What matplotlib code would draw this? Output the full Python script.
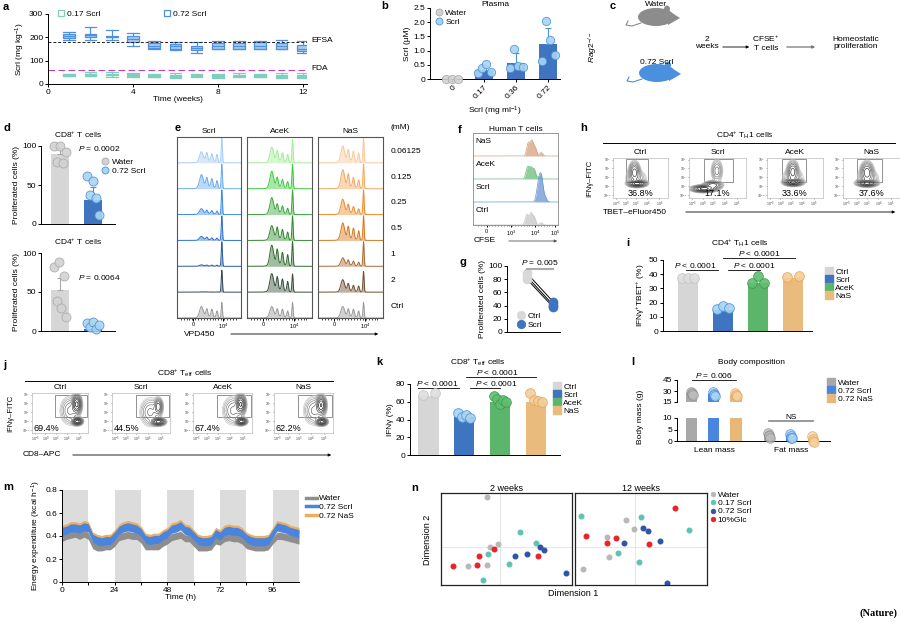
import numpy as np
import matplotlib
matplotlib.use('Agg')
import matplotlib.pyplot as plt
from matplotlib.patches import Rectangle, Ellipse, Polygon
from matplotlib.lines import Line2D

W, H = 900, 622
FS = 6

# ---------------- data ----------------
# a: weekly Scrl intake, box statistics (mg/kg)
A_WEEKS = list(range(1, 13))
A_HI_MED = [205, 208, 203, 192, 165, 162, 155, 163, 163, 165, 165, 152]
A_HI_Q1 = [196, 200, 200, 180, 155, 152, 145, 150, 152, 152, 152, 142]
A_HI_Q3 = [215, 216, 205, 205, 175, 172, 165, 175, 175, 178, 175, 168]
A_HI_LO = [190, 190, 190, 165, 148, 145, 135, 148, 148, 148, 148, 135]
A_HI_HI = [225, 245, 232, 220, 185, 180, 178, 185, 185, 185, 190, 185]
A_LO_MED = [38, 42, 40, 38, 34, 35, 36, 34, 36, 34, 35, 34]
A_LO_Q1 = [35, 39, 37, 33, 30, 31, 33, 30, 33, 31, 31, 30]
A_LO_Q3 = [42, 44, 45, 43, 38, 39, 39, 38, 40, 37, 39, 38]
A_LO_LO = [33, 35, 32, 30, 28, 27, 30, 27, 30, 28, 27, 26]
A_LO_HI = [44, 50, 50, 48, 44, 46, 43, 44, 46, 42, 46, 47]
A_EFSA = 180
A_FDA = 60

# b: plasma Scrl
B_DOSES = ['0', '0.17', '0.36', '0.72']
B_MEAN = [0, 0.30, 0.55, 1.22]
B_SD = [0, 0.15, 0.35, 0.58]
B_PTS = [[0, 0, 0], [0.20, 0.40, 0.52, 0.25], [0.38, 1.05, 0.45, 0.42],
         [0.62, 2.05, 1.38, 0.85]]

# d: proliferation in vivo
D_GROUPS = ['Water', '0.72 Scrl']
D_CD8_MEAN = [90, 31]
D_CD8_SD = [8, 16]
D_CD8_PTS = [[100, 80, 100, 78, 92], [62, 37, 55, 33, 12]]
D_CD4_MEAN = [53, 3]
D_CD4_SD = [15, 3]
D_CD4_PTS = [[82, 38, 89, 30, 70, 18], [10, 5, 12, 3, 8]]

# e: VPD450 division profiles, peak heights [gen0, gen1, gen2, gen3, gen4+, spread]
E_DOSES = ['0.06125', '0.125', '0.25', '0.5', '1', '2', 'Ctrl']
E_SCRL = [[0.95, 0.30, 0.28, 0.30, 0.38, 0.10],
          [0.95, 0.28, 0.30, 0.32, 0.48, 0.12],
          [0.95, 0.12, 0.12, 0.12, 0.20, 0.05],
          [0.95, 0.08, 0.08, 0.10, 0.14, 0.03],
          [0.95, 0.04, 0.04, 0.04, 0.05, 0.01],
          [0.85, 0.01, 0.01, 0.01, 0.01, 0.00],
          [0.60, 0.25, 0.28, 0.28, 0.40, 0.08]]
E_ACEK = [[0.90, 0.30, 0.32, 0.38, 0.55, 0.10],
          [0.95, 0.25, 0.28, 0.35, 0.62, 0.10],
          [0.95, 0.22, 0.26, 0.32, 0.60, 0.10],
          [0.95, 0.30, 0.35, 0.42, 0.52, 0.10],
          [0.95, 0.42, 0.45, 0.55, 0.75, 0.12],
          [0.70, 0.38, 0.42, 0.48, 0.65, 0.12],
          [0.60, 0.25, 0.28, 0.28, 0.40, 0.08]]
E_NAS = [[0.95, 0.35, 0.38, 0.42, 0.60, 0.10],
         [0.95, 0.32, 0.36, 0.48, 0.68, 0.10],
         [0.95, 0.20, 0.25, 0.32, 0.55, 0.08],
         [0.95, 0.35, 0.40, 0.45, 0.62, 0.10],
         [0.95, 0.15, 0.16, 0.20, 0.30, 0.05],
         [0.80, 0.22, 0.22, 0.28, 0.45, 0.06],
         [0.60, 0.25, 0.28, 0.28, 0.40, 0.08]]

# f: human T cells, CFSE peaks (log10 position, height)
F_SAMPLES = ['NaS', 'AceK', 'Scrl', 'Ctrl']
F_POS = [[3.71, 3.86, 4.00, 4.25], [3.68, 3.82, 3.96, 4.18],
         [4.10, 4.19, 4.28, 4.42], [3.65, 3.82, 3.96, 4.25]]
F_HT = [[0.55, 0.62, 0.35, 0.15], [0.50, 0.45, 0.40, 0.10],
        [0.45, 0.75, 0.80, 0.20], [0.45, 0.50, 0.32, 0.10]]

# g: human T cells proliferation
G_CTRL = [89, 84, 80]
G_SCRL = [46, 41, 38]

# h: CD4 TH1 flow (population: x, y, sx, sy, weight), gate (x0, x1, y0, y1)
H_SAMPLES = ['Ctrl', 'Scrl', 'AceK', 'NaS']
H_PCT = ['36.8%', '17.1%', '33.6%', '37.6%']
H_POPS = [[(2.2, 1.8, 0.40, 0.20, 1.0), (1.95, 3.3, 0.25, 0.60, 0.45), (2.1, 2.5, 0.5, 0.5, 0.15)],
          [(1.3, 1.15, 0.50, 0.20, 1.0), (2.1, 1.6, 0.40, 0.25, 0.5), (2.45, 3.4, 0.25, 0.70, 0.22)],
          [(2.35, 1.95, 0.40, 0.20, 1.0), (2.3, 3.4, 0.25, 0.60, 0.45), (2.3, 2.6, 0.5, 0.5, 0.15)],
          [(2.1, 1.85, 0.42, 0.20, 1.0), (2.1, 3.3, 0.28, 0.60, 0.50), (2.2, 2.5, 0.5, 0.5, 0.15)]]
H_GATES = [(1.15, 3.2, 1.95, 4.9), (1.35, 3.9, 1.95, 4.9),
           (1.35, 3.45, 1.95, 4.9), (1.25, 3.4, 1.95, 4.9)]

# i: IFNg+TBET+ CD4 TH1
I_GROUPS = ['Ctrl', 'Scrl', 'AceK', 'NaS']
I_MEAN = [37.5, 14.8, 33.5, 37.2]
I_PTS = [[37.5, 37.5, 37.5], [15.2, 17.5, 16.3], [33.5, 38.7, 34.0], [38.2, 38.7]]

# j: CD8 Teff flow
J_PCT = ['69.4%', '44.5%', '67.4%', '62.2%']
J_POPS = [[(4.0, 3.6, 0.20, 0.55, 0.9), (4.05, 1.45, 0.22, 0.22, 1.0), (3.4, 2.8, 0.45, 0.9, 0.2)],
          [(4.0, 3.3, 0.18, 0.50, 0.5), (4.0, 1.40, 0.28, 0.22, 1.0), (3.3, 2.6, 0.45, 0.9, 0.2)],
          [(4.05, 3.6, 0.20, 0.55, 0.85), (4.1, 1.45, 0.22, 0.22, 1.0), (3.4, 2.8, 0.45, 0.9, 0.2)],
          [(4.0, 3.5, 0.20, 0.55, 0.8), (4.05, 1.40, 0.22, 0.22, 1.0), (3.4, 2.8, 0.45, 0.9, 0.2)]]
J_GATE = (2.05, 4.9, 2.0, 4.8)

# k: IFNg CD8 Teff
K_MEAN = [66, 43, 60, 60]
K_PTS = [[68, 70], [47, 43, 45, 42], [67, 63, 58, 62, 60], [70, 62, 61, 60]]

# l: body composition (g)
L_GROUPS = ['Water', '0.72 Scrl', '0.72 NaS']
L_LEAN = [27, 26, 25]
L_LEAN_PTS = [[28, 27, 26, 25], [28, 26, 25, 23], [27, 25, 24, 23]]
L_FAT = [2.5, 2.3, 1.0]
L_FAT_PTS = [[3.5, 2.5, 2.0, 1.5], [3.2, 2.2, 1.5, 1.2], [2.0, 1.0, 0.2, -0.3]]

# m: energy expenditure (kcal/h), every 2 h
M_HOURS = np.arange(0, 109, 2)
M_WATER = [0.38, 0.40, 0.41, 0.42, 0.40, 0.42, 0.40, 0.32, 0.30, 0.30, 0.31, 0.31,
           0.34, 0.39, 0.40, 0.41, 0.40, 0.40, 0.37, 0.31, 0.31, 0.31, 0.31, 0.34,
           0.36, 0.39, 0.40, 0.41, 0.38, 0.38, 0.34, 0.30, 0.30, 0.30, 0.31, 0.36,
           0.35, 0.38, 0.39, 0.38, 0.38, 0.36, 0.32, 0.31, 0.30, 0.30, 0.30, 0.31,
           0.36, 0.40, 0.40, 0.39, 0.38, 0.37, 0.36]
M_SCRL = [0.44, 0.45, 0.47, 0.47, 0.46, 0.48, 0.47, 0.38, 0.36, 0.35, 0.36, 0.36,
          0.40, 0.45, 0.47, 0.48, 0.47, 0.46, 0.43, 0.37, 0.36, 0.37, 0.37, 0.40,
          0.42, 0.46, 0.47, 0.49, 0.45, 0.44, 0.40, 0.36, 0.35, 0.35, 0.36, 0.42,
          0.40, 0.44, 0.45, 0.44, 0.44, 0.42, 0.38, 0.36, 0.35, 0.35, 0.35, 0.36,
          0.42, 0.48, 0.47, 0.46, 0.44, 0.43, 0.42]
M_NAS = [0.47, 0.48, 0.50, 0.50, 0.49, 0.51, 0.50, 0.41, 0.39, 0.38, 0.39, 0.39,
         0.43, 0.48, 0.50, 0.51, 0.50, 0.49, 0.46, 0.40, 0.39, 0.40, 0.40, 0.43,
         0.45, 0.49, 0.50, 0.52, 0.48, 0.47, 0.43, 0.39, 0.38, 0.38, 0.39, 0.45,
         0.43, 0.47, 0.48, 0.47, 0.47, 0.45, 0.41, 0.39, 0.38, 0.38, 0.38, 0.39,
         0.45, 0.51, 0.50, 0.49, 0.47, 0.46, 0.45]

# n: MDS of microbiota (Dimension 1, Dimension 2)
N_GROUPS = ['Water', '0.17 Scrl', '0.72 Scrl', '10%Glc']
N_W2 = [[(-0.40, 1.47), (-0.32, 0.00), (-0.07, 0.08), (-0.97, -0.57), (-0.40, -0.54)],
        [(0.59, 0.43), (1.08, 0.12), (-0.37, -0.21), (0.28, -0.51), (-0.53, -1.00)],
        [(1.21, -0.01), (1.32, -0.11), (0.82, -0.21), (0.46, -0.29), (1.98, -0.80)],
        [(-1.43, -0.58), (-0.69, -0.55), (-0.63, -0.29), (-0.19, -0.08), (1.14, -0.29)]]
N_W12 = [[(-0.28, 0.80), (-0.03, 0.53), (-0.84, 0.29), (-0.77, -0.32), (-1.56, -0.66)],
         [(-1.62, 0.90), (0.19, 0.88), (1.63, 0.48), (-0.51, -0.18), (0.13, -0.46)],
         [(0.25, 0.56), (0.41, 0.46), (-0.33, 0.12), (0.75, 0.17), (0.96, -1.08)],
         [(1.20, 1.16), (-1.48, 0.30), (-0.56, 0.25), (-0.85, 0.12), (0.42, 0.07)]]

# ---------------- style ----------------
plt.rcParams.update({
    'font.family': ['Liberation Sans', 'DejaVu Sans'],
    'font.size': FS,
    'axes.titlesize': FS,
    'axes.labelsize': FS,
    'xtick.labelsize': FS,
    'ytick.labelsize': FS,
    'legend.fontsize': FS,
    'axes.linewidth': 0.7,
    'xtick.major.width': 0.7,
    'ytick.major.width': 0.7,
    'xtick.major.size': 2.2,
    'ytick.major.size': 2.2,
    'xtick.major.pad': 1.2,
    'ytick.major.pad': 1.2,
    'axes.titlepad': 2,
    'axes.labelpad': 1.5,
    'mathtext.fontset': 'custom',
    'mathtext.rm': 'Liberation Sans',
    'mathtext.it': 'Liberation Sans:italic',
    'mathtext.bf': 'Liberation Sans:bold',
})

GREY_BAR = '#d6d6d6'
GREY_DOT = ('#d2d2d2', '#a9a9a9')
BLUE_BAR = '#3f74c0'
BLUE_DOT = ('#a9d4f0', '#4a90d9')
GREEN_BAR = '#5bb56a'
GREEN_DOT = ('#5fbf70', '#3d9a4f')
ORANGE_BAR = '#e9bb7c'
ORANGE_DOT = ('#f3cd98', '#e3a65c')

fig = plt.figure(figsize=(W / 100, H / 100), dpi=100)


def px_axes(x0, y0, x1, y1):
    return fig.add_axes([x0 / W, 1 - y1 / H, (x1 - x0) / W, (y1 - y0) / H])


def open_spines(ax):
    ax.spines['top'].set_visible(False)
    ax.spines['right'].set_visible(False)


def spread(n, w):
    return np.linspace(-w, w, n) if n > 1 else np.zeros(1)


def circ(face, edge, ms=5):
    return Line2D([], [], marker='o', ls='none', ms=ms, mfc=face, mec=edge, mew=0.6)


def square(c, ms=5):
    return Line2D([], [], marker='s', ls='none', ms=ms, mfc=c, mec=c)


def small_legend(ax, handles, labels, **kw):
    opts = dict(frameon=False, handlelength=0.9, handletextpad=0.3,
                labelspacing=0.12, borderaxespad=0, borderpad=0)
    opts.update(kw)
    return ax.legend(handles, labels, **opts)


def bar_dots(ax, means, pts, bars, dots, sd=None, width=0.55, ms=6, w=0.15):
    x = np.arange(len(means))
    ax.bar(x, means, width=width, color=bars, zorder=1)
    for i, p in enumerate(pts):
        if sd is not None:
            ax.errorbar(i, means[i], yerr=[[0], [sd[i]]], fmt='none',
                        ecolor=dots[i][1], elinewidth=0.8, capsize=2,
                        capthick=0.8, zorder=2)
        ax.plot(i + spread(len(p), w), p, 'o', ms=ms, mfc=dots[i][0],
                mec=dots[i][1], mew=0.6, alpha=0.9, zorder=3, clip_on=False)


def bracket(ax, x0, x1, y, label, tx=None, color='k', lw=0.6):
    ax.plot([x0, x1], [y, y], color=color, lw=lw, clip_on=False)
    tx = (x0 + x1) / 2 if tx is None else tx
    ax.text(tx, y, label, ha='center', va='bottom', clip_on=False)


GX, GY = np.meshgrid(np.linspace(0, 5, 140), np.linspace(0, 5, 140))
FLOW_Y = [0.4, 1.5, 2.6, 3.7, 4.8]
FLOW_X = [0.3, 1.2, 2.1, 3.1, 4.2]
FLOW_LAB = ['10$^{-3}$', '10$^{0}$', '10$^{3}$', '10$^{4}$', '10$^{5}$']


def flow_panel(ax, pops, gate, pct, pct_xy, ha):
    z = np.zeros_like(GX)
    for cx, cy, sx, sy, wt in pops:
        z += wt * np.exp(-0.5 * (((GX - cx) / sx) ** 2 + ((GY - cy) / sy) ** 2))
    lv = z.max() * np.geomspace(0.025, 0.8, 10)
    cols = [plt.cm.Greys(v) for v in np.linspace(0.35, 1.0, 10)]
    ax.contour(GX, GY, z, levels=lv, colors=cols, linewidths=0.45)
    ax.add_patch(Rectangle((gate[0], gate[2]), gate[1] - gate[0], gate[3] - gate[2],
                           fill=False, ec='#808080', lw=0.6))
    ax.text(pct_xy[0], pct_xy[1], pct, ha=ha, va='bottom', fontsize=6.5)
    ax.set_xlim(0, 5)
    ax.set_ylim(0, 5)
    ax.set_xticks(FLOW_X)
    ax.set_xticklabels(FLOW_LAB, fontsize=2.6)
    ax.set_yticks(FLOW_Y)
    ax.set_yticklabels(FLOW_LAB, fontsize=2.4)
    ax.tick_params(length=1, width=0.4, pad=0.4, colors='#444444')
    for s in ax.spines.values():
        s.set_color('#bbbbbb')
        s.set_linewidth(0.5)


# ---------------- a ----------------
ax = px_axes(48, 14, 307, 84)
hi_stats = [dict(med=m, q1=a, q3=b, whislo=lo, whishi=hh) for m, a, b, lo, hh in
            zip(A_HI_MED, A_HI_Q1, A_HI_Q3, A_HI_LO, A_HI_HI)]
lo_stats = [dict(med=m, q1=a, q3=b, whislo=lo, whishi=hh) for m, a, b, lo, hh in
            zip(A_LO_MED, A_LO_Q1, A_LO_Q3, A_LO_LO, A_LO_HI)]
for stats, face, edge in [(lo_stats, '#c4e9df', '#7fcfbf'), (hi_stats, '#a9cdf2', '#4f8fe0')]:
    ax.bxp(stats, positions=A_WEEKS, widths=0.55, capwidths=0.55, patch_artist=True,
           showfliers=False, manage_ticks=False,
           boxprops=dict(facecolor=face, edgecolor=edge, lw=0.9),
           whiskerprops=dict(color=edge, lw=0.9), capprops=dict(color=edge, lw=0.9),
           medianprops=dict(color=edge, lw=0.9))
ax.axhline(A_EFSA, color='#222222', lw=0.7, ls=(0, (3, 2)))
ax.axhline(A_FDA, color='#c23fbf', lw=0.8, ls=(0, (6, 3)))
ax.set_xlim(0, 12.2)
ax.set_ylim(0, 300)
ax.set_xticks([0, 4, 8, 12])
ax.set_yticks([0, 100, 200, 300])
ax.set_xlabel('Time (weeks)', labelpad=0.5)
ax.set_ylabel('Scrl (mg kg$^{-1}$)')
open_spines(ax)
small_legend(ax, [Line2D([], [], marker='s', ls='none', ms=5, mfc='none', mec='#7fcfbf', mew=0.9),
                  Line2D([], [], marker='s', ls='none', ms=5, mfc='none', mec='#4f8fe0', mew=0.9)],
             ['0.17 Scrl', '0.72 Scrl'], ncol=2, loc='center left',
             bbox_to_anchor=(0.035, 1.0), columnspacing=7.5)

# ---------------- b ----------------
ax = px_axes(430, 8, 560, 79)
bar_dots(ax, B_MEAN, B_PTS, [BLUE_BAR] * 4, [GREY_DOT] + [BLUE_DOT] * 3,
         sd=B_SD, width=0.55, ms=6, w=0.2)
ax.set_xlim(-0.69, 3.37)
ax.set_ylim(0, 2.5)
ax.set_yticks([0, 0.5, 1.0, 1.5, 2.0, 2.5])
ax.set_yticklabels(['0', '0.5', '1.0', '1.5', '2.0', '2.5'])
ax.set_xticks(range(len(B_DOSES)))
ax.set_xticklabels(B_DOSES, rotation=45, ha='right', va='top', rotation_mode='anchor')
ax.set_xlabel('Scrl (mg ml$^{-1}$)', labelpad=3)
ax.set_ylabel('Scrl (μM)')
ax.set_title('Plasma', pad=0.5)
open_spines(ax)
small_legend(ax, [circ(*GREY_DOT), circ(*BLUE_DOT)], ['Water', 'Scrl'],
             loc='upper left', bbox_to_anchor=(0.04, 0.98))

# ---------------- d ----------------
for (y0, y1, means, sds, pts, title, ptxt, py) in [
        (146, 224, D_CD8_MEAN, D_CD8_SD, D_CD8_PTS, 'CD8$^{+}$ T cells', '$P$ = 0.0002', 97),
        (253, 331, D_CD4_MEAN, D_CD4_SD, D_CD4_PTS, 'CD4$^{+}$ T cells', '$P$ = 0.0064', 69)]:
    ax = px_axes(41, y0, 115, y1)
    bar_dots(ax, means, pts, [GREY_BAR, BLUE_BAR], [GREY_DOT, BLUE_DOT], sd=sds,
             width=0.55, ms=6.5, w=0.18)
    ax.set_xlim(-0.58, 1.67)
    ax.set_ylim(0, 100)
    ax.set_yticks([0, 50, 100])
    ax.set_xticks([])
    ax.set_ylabel('Proliferated cells (%)')
    ax.set_title(title, pad=6)
    ax.text(0.55, py, ptxt, ha='left', va='center')
    open_spines(ax)
    if y0 == 146:
        small_legend(ax, [circ(*GREY_DOT), circ(*BLUE_DOT)], D_GROUPS,
                     loc='upper left', bbox_to_anchor=(0.82, 0.84))

# ---------------- e ----------------
E_X = np.linspace(0, 10, 400)
E_MU = [7.0, 6.25, 5.45, 4.65, 3.8, 4.8]
E_SIG = [0.09, 0.12, 0.13, 0.14, 0.28, 0.9]


def division_profile(h):
    y = np.zeros_like(E_X)
    for hi, mu, s in zip(h, E_MU, E_SIG):
        y += hi * np.exp(-0.5 * ((E_X - mu) / s) ** 2)
    return y


E_PANELS = [
    ('Scrl', E_SCRL, ['#a6cdf5', '#6aaaf0', '#3c8ae8', '#2a6fd0', '#2a5aa0', '#34485e', '#9a9a9a'], (177, 241)),
    ('AceK', E_ACEK, ['#a3ec98', '#3dcc3a', '#3aa83a', '#2f8a2f', '#2f6e2f', '#35503a', '#9a9a9a'], (247, 312)),
    ('NaS', E_NAS, ['#f8c89a', '#f7a860', '#ef8c2c', '#d6781e', '#a86a30', '#6e4e30', '#9a9a9a'], (318, 383)),
]
n_e = len(E_DOSES)
for ci, (name, heights, colors, (x0, x1)) in enumerate(E_PANELS):
    ax = px_axes(x0, 137, x1, 318)
    for r in range(n_e):
        base = n_e - 1 - r
        prof = division_profile(heights[r])
        ax.fill_between(E_X, base, base + prof, color=colors[r], alpha=0.45, lw=0)
        ax.plot(E_X, base + prof, color=colors[r], lw=0.7)
        if ci == 2:
            ax.text(11.1, base + 0.45, E_DOSES[r], ha='left', va='center', clip_on=False)
    ax.set_xlim(0, 10)
    ax.set_ylim(0, n_e)
    ax.set_yticks([])
    ax.set_xticks([2.5, 7.2])
    ax.set_xticklabels(['0', '10$^{4}$'], fontsize=4)
    ax.set_xticks(np.arange(0.6, 9.6, 0.45), minor=True)
    ax.tick_params(which='minor', length=1.2, width=0.5)
    ax.tick_params(which='major', length=1.8)
    ax.set_title(name, pad=3)
    for s in ax.spines.values():
        s.set_color('#555555')
        s.set_linewidth(0.8)
    if ci == 2:
        ax.text(11.1, n_e + 0.25, '(mM)', ha='left', va='bottom', clip_on=False)

# ---------------- f ----------------
ax = px_axes(473, 133, 558, 225)
F_X = np.linspace(1.39, 4.96, 300)
f_cols = ['#d6a07c', '#6dbb7d', '#6b97d4', '#c6c6c6']
n_f = len(F_SAMPLES)
for r in range(n_f):
    base = n_f - 1 - r
    prof = np.zeros_like(F_X)
    for mu, h in zip(F_POS[r], F_HT[r]):
        prof += h * np.exp(-0.5 * ((F_X - mu) / 0.065) ** 2)
    ax.fill_between(F_X, base, base + prof, color=f_cols[r], alpha=0.75, lw=0)
    ax.plot(F_X, base + prof, color=f_cols[r], lw=0.5)
    ax.text(1.5, base + 0.62, F_SAMPLES[r], ha='left', va='center')
ax.set_xlim(1.39, 4.96)
ax.set_ylim(0, n_f)
ax.set_yticks([])
ax.set_xticks([1.96, 3, 4, 4.85])
ax.set_xticklabels(['0', '10$^{3}$', '10$^{4}$', '10$^{5}$'], fontsize=4)
ax.set_xticks(np.arange(1.6, 4.9, 0.12), minor=True)
ax.tick_params(which='minor', length=1, width=0.4)
ax.tick_params(which='major', length=1.6)
ax.set_title('Human T cells', pad=1)
for s in ax.spines.values():
    s.set_color('#888888')
    s.set_linewidth(0.6)

# ---------------- g ----------------
ax = px_axes(507, 266, 560, 332)
for c, s in zip(G_CTRL, G_SCRL):
    ax.plot([0, 1], [c, s], color='k', lw=0.7, zorder=1)
ax.plot(np.zeros(len(G_CTRL)), G_CTRL, 'o', ms=6, mfc='#d8d8d8', mec='#d8d8d8', zorder=2)
ax.plot(np.ones(len(G_SCRL)), G_SCRL, 'o', ms=6, mfc=BLUE_BAR, mec=BLUE_BAR, zorder=2)
ax.set_xlim(-0.77, 1.27)
ax.set_ylim(0, 100)
ax.set_yticks(range(0, 101, 20))
ax.set_xticks([])
ax.set_ylabel('Proliferated cells (%)')
open_spines(ax)
ax.plot([0, 1], [95, 95], color='#aaaaaa', lw=1.5, clip_on=False)
ax.text(0.5, 99, '$P$ = 0.005', ha='center', va='bottom', clip_on=False)
small_legend(ax, [circ('#d8d8d8', '#d8d8d8', 6), circ(BLUE_BAR, BLUE_BAR, 6)], ['Ctrl', 'Scrl'],
             loc='lower left', bbox_to_anchor=(0.2, 0.05))

# ---------------- h ----------------
H_BOXES = [(613, 668), (689, 746), (767, 823), (843, 900)]
for k, (x0, x1) in enumerate(H_BOXES):
    ax = px_axes(x0, 158, x1, 198)
    flow_panel(ax, H_POPS[k], H_GATES[k], H_PCT[k], (2.5, 0.05), 'center')
    ax.set_title(H_SAMPLES[k], pad=3)

# ---------------- i ----------------
ax = px_axes(663, 260, 812, 331)
cols4 = [GREY_BAR, BLUE_BAR, GREEN_BAR, ORANGE_BAR]
dots4 = [('#dedede', '#c4c4c4'), BLUE_DOT, GREEN_DOT, ORANGE_DOT]
bar_dots(ax, I_MEAN, I_PTS, cols4, dots4, width=0.57, ms=7, w=0.17)
ax.set_xlim(-0.71, 3.54)
ax.set_ylim(0, 50)
ax.set_yticks(range(0, 51, 10))
ax.set_xticks([])
ax.set_ylabel('IFNγ$^{+}$TBET$^{+}$ (%)')
open_spines(ax)
bracket(ax, -0.05, 0.86, 43, '$P$ < 0.0001', tx=0.2)
bracket(ax, 1.14, 2.06, 43, '$P$ < 0.0001', tx=1.9)
bracket(ax, 1.0, 3.06, 51.3, '$P$ < 0.0001', tx=2.03)
small_legend(ax, [square(c, 5.5) for c in cols4], I_GROUPS, loc='upper left',
             bbox_to_anchor=(1.09, 0.88), labelspacing=0.02)

# ---------------- j ----------------
J_BOXES = [(32, 88), (112, 170), (193, 252), (274, 333)]
for k, (x0, x1) in enumerate(J_BOXES):
    ax = px_axes(x0, 393, x1, 433)
    flow_panel(ax, J_POPS[k], J_GATE, J_PCT[k], (0.15, 0.02), 'left')
    ax.set_title(H_SAMPLES[k], pad=3)

# ---------------- k ----------------
ax = px_axes(410, 384, 560, 455)
bar_dots(ax, K_MEAN, K_PTS, cols4, dots4, width=0.57, ms=7, w=0.17)
ax.set_xlim(-0.52, 3.68)
ax.set_ylim(0, 80)
ax.set_yticks(range(0, 81, 20))
ax.set_xticks([])
ax.set_ylabel('IFNγ (%)')
open_spines(ax)
bracket(ax, -0.31, 0.84, 75.8, '$P$ < 0.0001', tx=0.25)
bracket(ax, 1.15, 2.0, 75.8, '$P$ < 0.0001', tx=1.88)
bracket(ax, 1.04, 3.0, 87.5, '$P$ < 0.0001', tx=1.93)
small_legend(ax, [square(c, 5.5) for c in cols4], I_GROUPS, loc='upper left',
             bbox_to_anchor=(0.955, 1.01), labelspacing=0.02)

# ---------------- l ----------------
l_bars = ['#a8a8a8', '#4a86e0', '#e8b878']
l_dots = [('#bdbdbd', '#8c8c8c'), ('#a9d4f0', '#3f7fdc'), ('#f6cf9c', '#e0a45c')]
lean_x = np.arange(3)
fat_x = lean_x + 3.5
up = px_axes(677, 380, 830, 402)
lw_ax = px_axes(677, 418, 830, 441)
for a_ in (up, lw_ax):
    a_.bar(lean_x, L_LEAN, width=0.5, color=l_bars, zorder=1)
    a_.bar(fat_x, L_FAT, width=0.5, color=l_bars, zorder=1)
    a_.set_xlim(-0.68, 6.27)
    open_spines(a_)
for i in range(3):
    up.plot(lean_x[i] + spread(len(L_LEAN_PTS[i]), 0.05), L_LEAN_PTS[i], 'o', ms=7,
            mfc=l_dots[i][0], mec=l_dots[i][1], mew=0.6, alpha=0.7, zorder=3)
    lw_ax.plot(fat_x[i] + spread(len(L_FAT_PTS[i]), 0.05), L_FAT_PTS[i], 'o', ms=7,
               mfc=l_dots[i][0], mec=l_dots[i][1], mew=0.6, alpha=0.7, zorder=3, clip_on=False)
up.set_ylim(15, 45)
up.set_yticks([15, 30, 45])
up.set_xticks([])
up.spines['bottom'].set_visible(False)
lw_ax.set_ylim(0, 10)
lw_ax.set_yticks([0, 5, 10])
lw_ax.set_xticks([1, 4.5])
lw_ax.set_xticklabels(['Lean mass', 'Fat mass'])
lw_ax.tick_params(axis='x', length=0, pad=4)
bracket(up, 0, 2, 44.5, '$P$ = 0.006')
bracket(lw_ax, 3.5, 5.5, 8.7, 'NS', color='#888888', lw=1.2)
small_legend(up, [square(c, 5.5) for c in l_bars], L_GROUPS, loc='upper left',
             bbox_to_anchor=(0.985, 1.03), labelspacing=0.02)

# ---------------- m ----------------
ax = px_axes(62, 490, 299, 582)
for t0 in range(0, 108, 24):
    ax.axvspan(t0, t0 + 12, color='#dcdcdc', lw=0, zorder=0)
for series, c, hw in [(M_WATER, '#8e8e8e', 0.03), (M_NAS, '#eab060', 0.025), (M_SCRL, '#4a84dc', 0.035)]:
    ax.fill_between(M_HOURS, np.array(series) - hw, np.array(series) + hw, color=c, lw=0, zorder=2)
ax.set_xlim(0, 108)
ax.set_ylim(0, 0.8)
ax.set_xticks([0, 24, 48, 72, 96])
ax.set_xticks(range(12, 108, 24), minor=True)
ax.tick_params(which='minor', length=2.2, width=0.7)
ax.set_yticks([0, 0.2, 0.4, 0.6, 0.8])
ax.set_yticklabels(['0', '0.2', '0.4', '0.6', '0.8'])
ax.set_xlabel('Time (h)', labelpad=0.5)
ax.set_ylabel('Energy expenditure (kcal h$^{-1}$)')
open_spines(ax)
small_legend(ax, [Line2D([], [], color=c, lw=2.5) for c in ['#8e8e8e', '#4a84dc', '#eab060']],
             ['Water', '0.72 Scrl', '0.72 NaS'], loc='upper left', bbox_to_anchor=(1.03, 0.95),
             handlelength=1.3)

# ---------------- n ----------------
n_cols = ['#b8b8b8', '#5ec4b0', '#2e55a8', '#e8232a']
for (x0, x1), pts, title, xl in [((441, 572), N_W2, '2 weeks', (-1.78, 2.16)),
                                 ((575, 707), N_W12, '12 weeks', (-1.80, 2.17))]:
    ax = px_axes(x0, 493, x1, 585)
    ax.axhline(0, color='#e2e2e2', lw=0.6, zorder=0)
    ax.axvline(0, color='#e2e2e2', lw=0.6, zorder=0)
    for g, c in enumerate(n_cols):
        arr = np.array(pts[g])
        ax.plot(arr[:, 0], arr[:, 1], 'o', ms=3.3, mfc=c, mec=c, zorder=2)
    ax.set_xlim(*xl)
    ax.set_ylim(-1.15, 1.6)
    ax.set_xticks([])
    ax.set_yticks([])
    ax.set_title(title, fontsize=6.5, pad=1.5)
    for s in ax.spines.values():
        s.set_linewidth(0.9)
        s.set_color('#222222')
small_legend(ax, [circ(c, c, 3.3) for c in n_cols], N_GROUPS, loc='upper left',
             bbox_to_anchor=(1.03, 1.02), handlelength=0.6, handletextpad=0.2, labelspacing=0.05)

# ---------------- overlay: labels, schematic, headers ----------------
ov = fig.add_axes([0, 0, 1, 1], zorder=5)
ov.set_xlim(0, W)
ov.set_ylim(H, 0)
ov.axis('off')

for lab, x, y in [('a', 3, 7), ('b', 381, 6), ('c', 610, 6), ('d', 3, 128), ('e', 175, 128),
                  ('f', 458, 130), ('g', 460, 262), ('h', 580, 128), ('i', 626, 243),
                  ('j', 3, 365), ('k', 376, 362), ('l', 631, 362), ('m', 3, 487), ('n', 411, 488)]:
    ov.text(x, y, lab, fontsize=8, fontweight='bold', ha='left', va='center')

ov.text(311, 41, 'EFSA', va='center', ha='left')
ov.text(311, 69, 'FDA', va='center', ha='left')


# c: schematic
def mouse(cx, cy, color):
    ov.add_patch(Ellipse((cx, cy), 36, 18, color=color, lw=0))
    ov.add_patch(Polygon([(cx + 10, cy - 8), (cx + 24, cy + 1), (cx + 12, cy + 8)], color=color, lw=0))
    ov.add_patch(Ellipse((cx + 11, cy - 8), 6, 7, color=color, lw=0))
    ov.plot([cx - 15, cx - 24, cx - 30, cx - 28], [cy + 6, cy + 9, cy + 8, cy + 4], color=color, lw=0.8)


mouse(656, 17, '#8c8c8c')
mouse(657, 73, '#4a90dc')
ov.text(656, 5, 'Water', ha='center', va='center')
ov.text(657, 62, '0.72 Scrl', ha='center', va='center')
ov.text(593, 47, r'$\it{Rag2}^{-/-}$', rotation=90, ha='center', va='center')
ov.text(707, 43, '2\nweeks', ha='center', va='center', linespacing=1.1)
ov.annotate('', xy=(752, 47), xytext=(720, 47),
            arrowprops=dict(arrowstyle='-|>', lw=0.6, color='k', mutation_scale=4))
ov.text(766, 43, 'CFSE$^{+}$\nT cells', ha='center', va='center', linespacing=1.1)
ov.annotate('', xy=(818, 47), xytext=(784, 47),
            arrowprops=dict(arrowstyle='-|>', lw=0.9, color='#777777', mutation_scale=4))
ov.text(856, 43, 'Homeostatic\nproliferation', ha='center', va='center', linespacing=1.1)

# e / f axis labels
ov.text(184, 334, 'VPD450', ha='left', va='center')
ov.annotate('', xy=(381, 334), xytext=(228, 334),
            arrowprops=dict(arrowstyle='-|>', lw=0.6, color='k', mutation_scale=4))
ov.text(474, 241, 'CFSE', ha='left', va='center')
ov.annotate('', xy=(560, 241), xytext=(506, 241),
            arrowprops=dict(arrowstyle='-|>', lw=0.6, color='#555555', mutation_scale=4))

# h headers
ov.text(745, 135, 'CD4$^{+}$ T$_{\\rm H}$1 cells', ha='center', va='center')
ov.plot([603, 895], [142.5, 142.5], color='k', lw=0.7)
ov.text(590, 178, 'IFNγ–FITC', rotation=90, ha='center', va='center', fontsize=5.5)
ov.text(603, 212, 'TBET–eFluor450', ha='left', va='center')
ov.annotate('', xy=(898, 212), xytext=(683, 212),
            arrowprops=dict(arrowstyle='-|>', lw=0.6, color='k', mutation_scale=4))
ov.text(740, 243, 'CD4$^{+}$ T$_{\\rm H}$1 cells', ha='center', va='center')

# j headers
ov.text(185, 373, 'CD8$^{+}$ T$_{\\rm eff}$ cells', ha='center', va='center')
ov.plot([25, 333], [381, 381], color='k', lw=0.7)
ov.text(11, 413, 'IFNγ–FITC', rotation=90, ha='center', va='center', fontsize=5.5)
ov.text(23, 455, 'CD8–APC', ha='left', va='center')
ov.annotate('', xy=(334, 455), xytext=(70, 455),
            arrowprops=dict(arrowstyle='-|>', lw=0.6, color='k', mutation_scale=4))

ov.text(478, 362, 'CD8$^{+}$ T$_{\\rm eff}$ cells', ha='center', va='center')
ov.text(752, 362, 'Body composition', ha='center', va='center')
ov.text(641, 417, 'Body mass (g)', rotation=90, ha='center', va='center')

ov.text(573, 593, 'Dimension 1', ha='center', va='center', fontsize=6.5)
ov.text(428, 540, 'Dimension 2', rotation=90, ha='center', va='center', fontsize=6.5)

ov.text(898, 613, '(Nature)', ha='right', va='center', fontsize=7.5, fontweight='bold',
        family=['Liberation Serif', 'DejaVu Serif'])

fig.savefig('out.png', dpi=100, facecolor='white')
